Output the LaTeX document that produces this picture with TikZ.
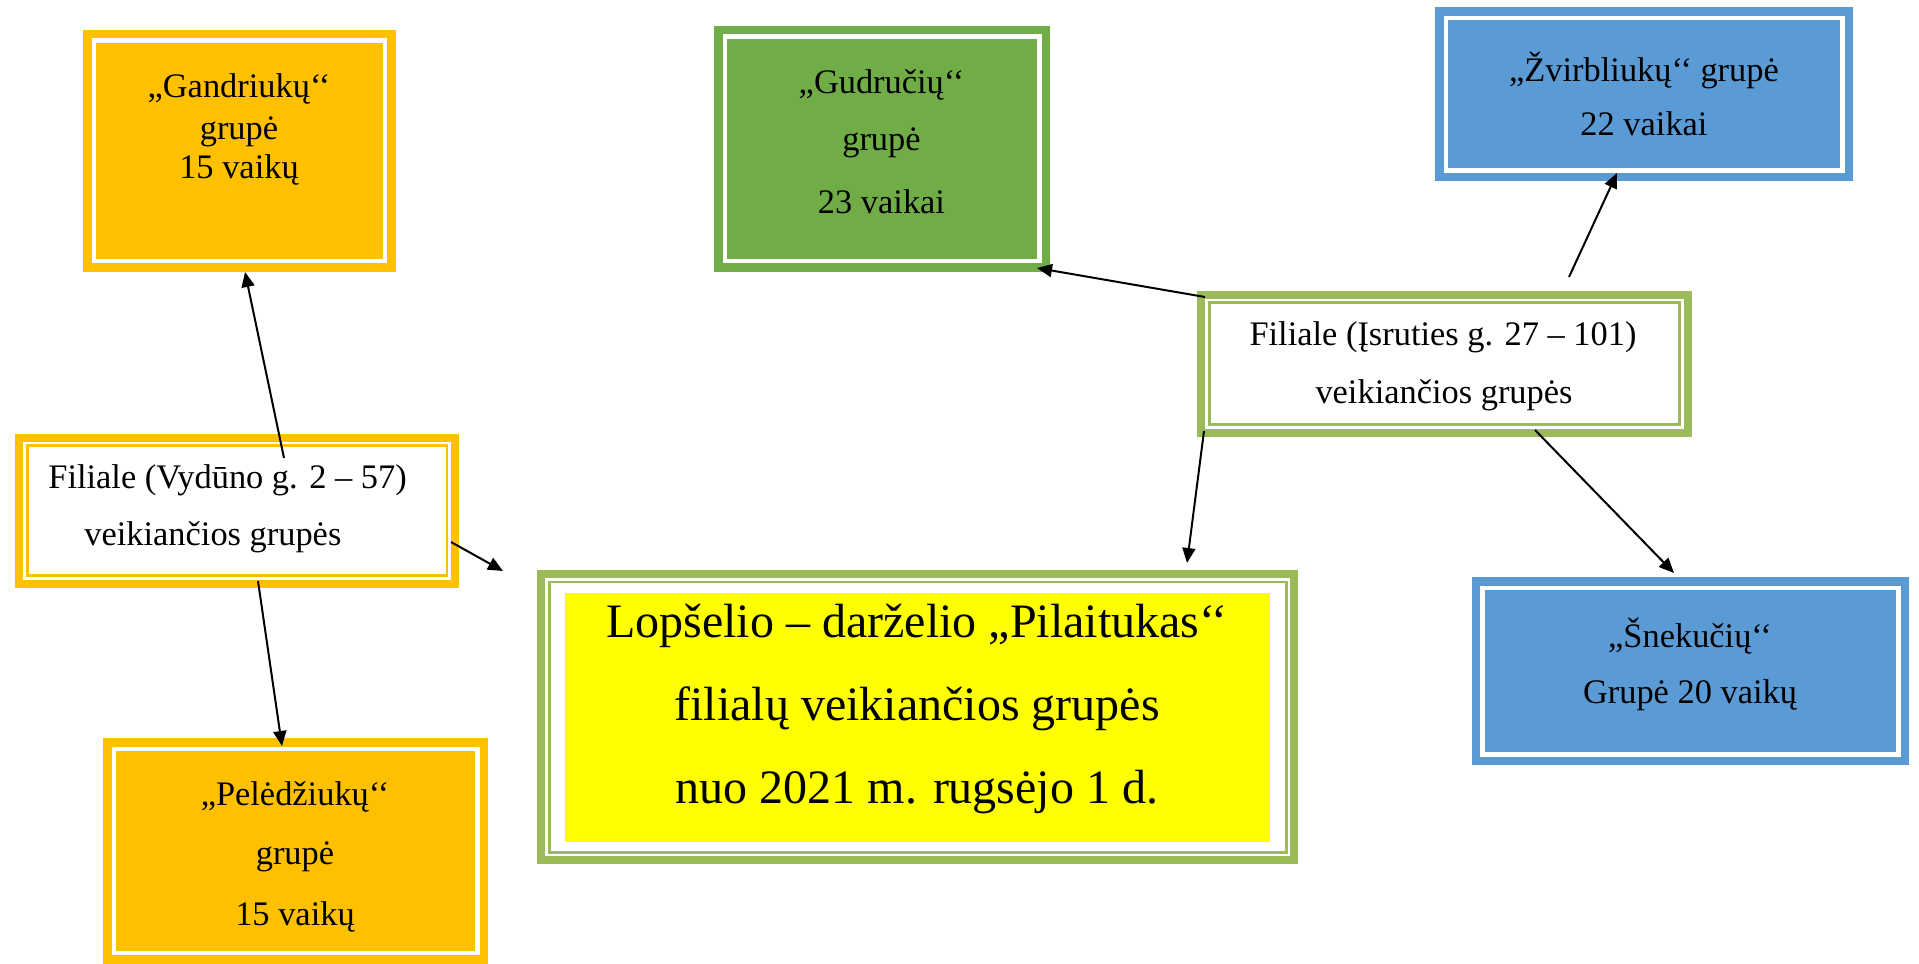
\documentclass[tikz,border=0pt]{standalone}
\usepackage{fontspec}
\setmainfont{Liberation Serif}
\usetikzlibrary{arrows.meta}
\definecolor{cOr}{HTML}{FFC000}
\definecolor{cOl}{HTML}{9BBB59}
\definecolor{cGr}{HTML}{70AD47}
\definecolor{cBl}{HTML}{5B9BD5}
\definecolor{cYe}{HTML}{FFFF00}
\begin{document}
\begin{tikzpicture}[x=0.5pt,y=-0.5pt,
  fbox/.style={rectangle, fill=#1, draw=#1, double=white, double distance=2.25pt, line width=4.25pt, inner sep=0pt, outer sep=0pt},
  tbox/.style={rectangle, fill=white, draw=#1, line width=1.35pt, inner sep=0pt, outer sep=0pt},
  band/.style={draw=#1, line width=4pt},
  txt/.style={inner sep=0pt, anchor=base, font=\fontsize{17.2pt}{20pt}\selectfont},
  txtw/.style={inner sep=0pt, anchor=base west, font=\fontsize{17.2pt}{20pt}\selectfont},
  bigtxt/.style={inner sep=0pt, anchor=base, font=\fontsize{24pt}{28pt}\selectfont},
  arr/.style={-{Triangle[length=7.5pt,width=6.5pt]}, line width=1pt, black}]
\useasboundingbox (0,0) rectangle (1919,964);

% filled group boxes
\node[fbox=cOr, minimum width=145.6pt, minimum height=110.25pt] (gand) at (239.35,150.7) {};
\node[fbox=cOr, minimum width=181.75pt, minimum height=101.9pt] (pel) at (295.5,850.85) {};
\node[fbox=cGr, minimum width=157.1pt, minimum height=112.25pt] (gud) at (882.15,148.7) {};
\node[fbox=cBl, minimum width=198.4pt, minimum height=76.1pt] (zv) at (1644.15,94.15) {};
\node[fbox=cBl, minimum width=207.9pt, minimum height=83.1pt] (sn) at (1690.35,671.15) {};

% thin-thick framed boxes
\node[tbox=cOr, minimum width=209.8pt, minimum height=64.95pt] (vyd) at (237.2,510.65) {};
\draw[band=cOr] ([shift={(-8,-8)}]vyd.north west) rectangle ([shift={(8,8)}]vyd.south east);
\node[tbox=cOl, minimum width=235.2pt, minimum height=61pt] (isr) at (1444.5,363.7) {};
\draw[band=cOl] ([shift={(-8,-8)}]isr.north west) rectangle ([shift={(8,8)}]isr.south east);
\node[tbox=cOl, minimum width=368.5pt, minimum height=135.15pt] (mainf) at (917.8,717.15) {};
\draw[band=cOl] ([shift={(-8,-8)}]mainf.north west) rectangle ([shift={(8,8)}]mainf.south east);
\node[rectangle, fill=cYe, inner sep=0pt, minimum width=352.5pt, minimum height=124.2pt] (main) at (917.5,717.5) {};

% texts
\node[txt] (gand1) at (239,97) {„Gandriukų‘‘};
\node[txt] (gand2) at (239,139) {grupė};
\node[txt] (gand3) at (239,178) {15 vaikų};

\node[txt] (pel1) at (295,805) {„Pelėdžiukų‘‘};
\node[txt] (pel2) at (295,864) {grupė};
\node[txt] (pel3) at (295,925) {15 vaikų};

\node[txt] (gud1) at (881.5,93) {„Gudručių‘‘};
\node[txt] (gud2) at (881.5,150) {grupė};
\node[txt] (gud3) at (881.5,213) {23 vaikai};

\node[txt] (zv1) at (1644,81) {„Žvirbliukų‘‘ grupė};
\node[txt] (zv2) at (1644,135) {22 vaikai};

\node[txt] (sn1) at (1690,647) {„Šnekučių‘‘};
\node[txt] (sn2) at (1690,703) {Grupė 20 vaikų};

\node[txtw] (vyd1) at (48,488) {Filiale (Vydūno g. 2 – 57)};
\node[txtw] (vyd2) at (84,545) {veikiančios grupės};

\node[txt] (isr1) at (1443,345) {Filiale (Įsruties g. 27 – 101)};
\node[txt] (isr2) at (1444,403) {veikiančios grupės};

\node[bigtxt] (main1) at (917,637) {Lopšelio – darželio „Pilaitukas‘‘};
\node[bigtxt] (main2) at (917,720) {filialų veikiančios grupės};
\node[bigtxt] (main3) at (917,803) {nuo 2021 m. rugsėjo 1 d.};

% connector end points
\coordinate (a1s) at (284,458); \coordinate (a1e) at (245,272);
\coordinate (a2s) at (258,581); \coordinate (a2e) at (282,746);
\coordinate (a3s) at (451,542); \coordinate (a3e) at (503,571);
\coordinate (a4s) at (1205,297); \coordinate (a4e) at (1037,268);
\coordinate (a5s) at (1569,277); \coordinate (a5e) at (1617,173);
\coordinate (a6s) at (1204,431); \coordinate (a6e) at (1187,563);
\coordinate (a7s) at (1535,430); \coordinate (a7e) at (1674,573);

\draw[arr] (a1s) -- (a1e);
\draw[arr] (a2s) -- (a2e);
\draw[arr] (a3s) -- (a3e);
\draw[arr] (a4s) -- (a4e);
\draw[arr] (a5s) -- (a5e);
\draw[arr] (a6s) -- (a6e);
\draw[arr] (a7s) -- (a7e);
\end{tikzpicture}
\end{document}
